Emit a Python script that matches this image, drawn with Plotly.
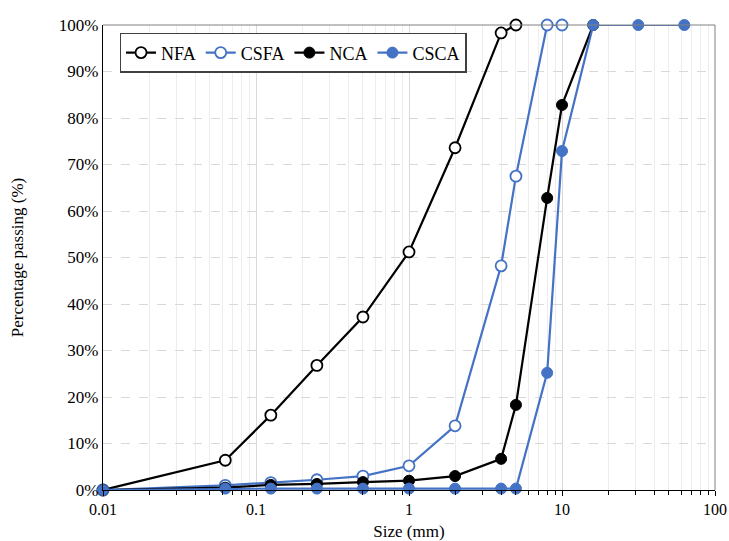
import plotly.graph_objects as go

# Sieve sizes (mm) and percentage passing for each aggregate
fine_sizes = [0.01, 0.063, 0.125, 0.25, 0.5, 1, 2, 4, 5]
nfa = [0, 6.4, 16.1, 26.8, 37.2, 51.2, 73.6, 98.3, 100]

csfa_sizes = [0.01, 0.063, 0.125, 0.25, 0.5, 1, 2, 4, 5, 8, 10]
csfa = [0, 1.0, 1.6, 2.2, 3.0, 5.2, 13.8, 48.2, 67.5, 100, 100]

nca_sizes = [0.01, 0.063, 0.125, 0.25, 0.5, 1, 2, 4, 5, 8, 10, 16]
nca = [0, 0.5, 1.1, 1.3, 1.7, 2.0, 3.0, 6.7, 18.3, 62.8, 82.8, 100]

csca_sizes = [0.01, 0.063, 0.125, 0.25, 0.5, 1, 2, 4, 5, 8, 10, 16, 31.5, 63]
csca = [0, 0.3, 0.3, 0.3, 0.3, 0.3, 0.3, 0.3, 0.3, 25.2, 72.9, 100, 100, 100]

x_ticks = [0.01, 0.1, 1, 10, 100]
x_tick_text = ["0.01", "0.1", "1", "10", "100"]
y_ticks = list(range(0, 101, 10))
y_tick_text = [f"{v}%" for v in y_ticks]

BLUE = "#4472C4"
BLACK = "#000000"
FONT = "Liberation Serif, Times New Roman, serif"

fig = go.Figure()

def add_series(x, y, name, color, filled):
    fig.add_trace(go.Scatter(
        x=x, y=y, name=name, mode="lines+markers",
        line=dict(color=color, width=2.2),
        marker=dict(size=11, color=color if filled else "white",
                    line=dict(color=color, width=1.8 if not filled else 1)),
        cliponaxis=False,
    ))

add_series(fine_sizes, nfa, "NFA", BLACK, False)
add_series(csfa_sizes, csfa, "CSFA", BLUE, False)
add_series(nca_sizes, nca, "NCA", BLACK, True)
add_series(csca_sizes, csca, "CSCA", BLUE, True)

minor_vals = [m * 10 ** e for e in range(-2, 2) for m in range(2, 10)]

fig.update_layout(
    width=729, height=541,
    margin=dict(l=103, r=14, t=25, b=51, autoexpand=False),
    paper_bgcolor="white", plot_bgcolor="white",
    font=dict(family=FONT, size=16, color="black"),
    showlegend=True,
    legend=dict(
        orientation="h", x=0.027, y=0.983, xanchor="left", yanchor="top",
        bgcolor="white", bordercolor="#404040", borderwidth=1.5,
        font=dict(family=FONT, size=18, color="black"),
        itemwidth=30, tracegroupgap=0,
    ),
    xaxis=dict(
        type="log", range=[-2, 2], automargin=False,
        tickmode="array", tickvals=x_ticks, ticktext=x_tick_text,
        showgrid=True, gridcolor="#D9D9D9", gridwidth=1,
        showline=True, linecolor="black", linewidth=1.2,
        ticks="outside", ticklen=5, tickcolor="black",
        tickfont=dict(family=FONT, size=16),
        minor=dict(tickvals=minor_vals, showgrid=True, gridcolor="#EDEDED",
                   ticks="outside", ticklen=4, tickcolor="black"),
        title=dict(text="Size (mm)", font=dict(family=FONT, size=17), standoff=9),
        zeroline=False,
    ),
    yaxis=dict(
        range=[0, 100], automargin=False,
        tickmode="array", tickvals=y_ticks, ticktext=y_tick_text,
        tickfont=dict(family=FONT, size=17),
        showgrid=True, gridcolor="#D9D9D9", griddash="dash", gridwidth=1,
        showline=True, linecolor="black", linewidth=1.2,
        ticks="", title=dict(text="Percentage passing (%)",
                             font=dict(family=FONT, size=17), standoff=30),
        zeroline=False,
    ),
)

# light frame along the top and right of the plotting area
fig.add_shape(type="line", xref="paper", yref="paper", x0=0, x1=1, y0=1, y1=1,
              line=dict(color="#808080", width=1))
fig.add_shape(type="line", xref="paper", yref="paper", x0=1, x1=1, y0=0, y1=1,
              line=dict(color="#808080", width=1))

fig.write_html("out.html")
